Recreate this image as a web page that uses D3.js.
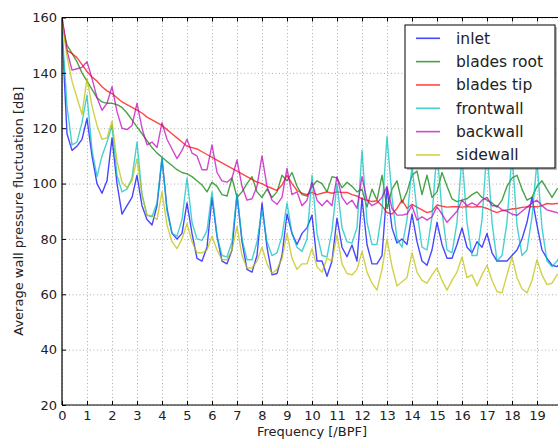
<!DOCTYPE html>
<html><head><meta charset="utf-8">
<script src="https://cdn.jsdelivr.net/npm/d3@7"></script>
<style>body{margin:0;background:#fff}svg{display:block;font-family:"DejaVu Sans",sans-serif}</style>
</head><body><svg id="c" width="558" height="440"></svg>
<script>
// ---- data ----
const freq = [
 0,0.2,0.4,0.6,0.8, 1,1.2,1.4,1.6,1.8, 2,2.2,2.4,2.6,2.8, 3,3.2,3.4,3.6,3.8,
 4,4.2,4.4,4.6,4.8, 5,5.2,5.4,5.6,5.8, 6,6.2,6.4,6.6,6.8, 7,7.2,7.4,7.6,7.8,
 8,8.2,8.4,8.6,8.8, 9,9.2,9.4,9.6,9.8, 10,10.2,10.4,10.6,10.8, 11,11.2,11.4,11.6,11.8,
 12,12.2,12.4,12.6,12.8, 13,13.2,13.4,13.6,13.8, 14,14.2,14.4,14.6,14.8, 15,15.2,15.4,15.6,15.8,
 16,16.2,16.4,16.6,16.8, 17,17.2,17.4,17.6,17.8, 18,18.2,18.4,18.6,18.8, 19,19.2,19.4,19.6,19.8, 20];

const inlet = [
 155,118,112,113.5,116, 123.5,110,100,96.5,101, 116.5,100,89,92,95, 103,92,87,85,92,
 109,91,82,80,82, 93,82,73,72,77, 95,81,72,71,76, 96,79,69,68,74,
 93,77,67,67.5,74, 89,82,78,82,84, 88.6,72,72,66.5,72, 87.5,77,73.6,77.8,72,
 94.8,78,71,71,74, 98.4,84,78.5,80,78, 89,79,72,70.5,76, 86,78,73,73,78,
 84,77,75,79,77, 82,75,72,72,72, 74,76,80,86,95, 85,76,73,70.5,70, 72];

const bladesRoot = [
 158,150,147,144,140, 137,134,131,129.5,129, 129,128.5,127.5,125.5,123, 120.5,118,115.5,113,111,
 109.5,108,106.5,105,104, 103.5,102.5,101,99.5,97, 100.5,99,96,95.5,102, 95,97,100,102.5,97,
 95,98,95,97,103, 101,104,99,96,95.5, 99,101,100,97,102.5, 102,98.5,100.5,99,97,
 98,91.5,98,94,103, 91,98,101,93,97, 103,104.5,96,103,95, 97,104,99,94.5,93.5,
 94,94.5,96,97,95, 94,93,91.5,94,99, 102,103,98,94,95, 99,101,98,95,98, 99];

const bladesTip = [
 160,148,147,145.5,143, 140.5,138.5,137,135,133.5, 132.5,131,129.5,128.5,127.5, 126.5,125.5,124,123,122,
 121,119.5,118,116.5,115, 113.5,113,112.5,111.5,110.5, 109.5,108.5,107.5,106.5,105.5, 104.5,103.5,102.5,101.5,100.5,
 100,99,98.3,97.5,99.5, 103,100,97.5,96.5,96, 96.8,96,96.5,97,96.5, 97,96.8,96.8,96,95.5,
 94.5,94,93.5,93.8,92, 89.5,89,91,94,91, 92.5,91.5,90.5,89.5,90, 92.3,91.8,91.5,91.6,91.6,
 91.5,91.7,91.5,91.6,91.6, 91,90.2,89.5,90.2,90.5, 90.8,91,91.4,91.6,91.6, 91.6,92,92.8,92.6,92.8, 93];

const frontwall = [
 156,128,114,115,122, 132,112,102.5,110,115, 121,103,97,98,102, 115,96,88.5,88,93,
 109.5,90,82,81,87, 102,86,80,79.5,83, 97,81,74,73.5,79, 96.5,80,72.5,72.5,79,
 90.5,79,74,75,81, 93,82,77,75.5,80, 103,82,74,73.5,83, 100,84,79,78.5,84,
 112,86,78,78,90, 117,95,80,77,87, 106.5,90,77,76,88, 112,90,76,75,86,
 110,86,74,74,87, 113,86,72,74,86, 111,85,74,76,88, 108,84,72,70,72, 75];

const backwall = [
 160,148,141,141.5,142, 144,138,131,126.5,129, 135,126,120,119.5,121, 129,120,114,115,113,
 122,116,112.5,109,112, 116,111,110,105,105, 114,104,101,100.5,102, 108.5,99,94,94.5,99,
 110,99,94,92.5,95, 105.5,96,97,92,94, 100.5,94,92,94,92, 102.5,95,92.5,94,91,
 102.5,94,92,93,95, 99,91,88.6,88.6,89, 92,86.8,88,86.8,88, 91.6,89,86,88,90,
 94,92,93,92,94, 95,92,92,90.5,90, 89,88.5,90,91.5,93, 94,92,90.5,90,89.5, 89];

const sidewall = [
 158,146,137,131,125, 138,128,121,116,116.5, 122.5,108,100.5,98.5,101, 109,96,88.5,88.5,87,
 97,85,79,76.5,80, 85.6,79,75,75,76, 81,76,72.5,72.5,76, 84.5,74,69.5,69.5,72,
 77,71,67.5,69,73, 82,73,69,71,71, 76.5,70,68,73,72, 81.5,71,67.5,67,69,
 75.5,68,64,61.5,69, 80,70,63,64.5,66, 75,68,65,64,67, 69.5,65,61.5,65,68,
 73.5,66,67,63,67, 70.5,65,61,60.5,67, 73.5,66,62,60.5,65, 72.5,67,63.5,64,67, 68];

const seriesNames = ["inlet","blades root","blades tip","frontwall","backwall","sidewall"];
const seriesValues = [inlet, bladesRoot, bladesTip, frontwall, backwall, sidewall];
const seriesColors = ["#0000ff","#008000","#ff0000","#00bfbf","#bf00bf","#bfbf00"];
const xTicks = [0,1,2,3,4,5,6,7,8,9,10,11,12,13,14,15,16,17,18,19,20];
const xTickLabels = ["0","1","2","3","4","5","6","7","8","9","10","11","12","13","14","15","16","17","18","19",""];
const yTicks = [20,40,60,80,100,120,140,160];
const xLabel = "Frequency [/BPF]";
const yLabel = "Average wall pressure fluctuation [dB]";

// ---- layout ----
const svg = d3.select("#c");
svg.append("rect").attr("width",558).attr("height",440).attr("fill","#fff");
const L = 62, R = 562, T = 17.5, B = 405;
const x = d3.scaleLinear().domain([0,20]).range([L,R]);
const y = d3.scaleLinear().domain([20,160]).range([B,T]);

// grid
const grid = svg.append("g").attr("class","grid");
grid.append("g").attr("transform",`translate(0,${B})`)
  .call(d3.axisBottom(x).tickValues(xTicks).tickSize(-(B-T)).tickFormat(""));
grid.append("g").attr("transform",`translate(${L},0)`)
  .call(d3.axisLeft(y).tickValues(yTicks).tickSize(-(R-L)).tickFormat(""));
grid.selectAll(".domain").remove();
grid.selectAll("line").attr("stroke","#9a9a9a").attr("stroke-width",0.8).attr("stroke-dasharray","1,2.5");

// clip
svg.append("clipPath").attr("id","plot").append("rect")
  .attr("x",L).attr("y",T).attr("width",R-L).attr("height",B-T);

const line = d3.line().x((d,i)=>x(freq[i])).y(d=>y(d));
const gl = svg.append("g").attr("clip-path","url(#plot)");
seriesValues.forEach((vals,k)=>{
  gl.append("path").datum(vals).attr("d",line)
    .attr("fill","none").attr("stroke",seriesColors[k])
    .attr("stroke-opacity",0.72).attr("stroke-width",1.4)
    .attr("stroke-linejoin","round");
});

// axes (inward ticks)
const fontSize = 13;
const ax = svg.append("g").attr("transform",`translate(0,${B})`)
  .call(d3.axisBottom(x).tickValues(xTicks).tickSize(-4).tickPadding(6)
    .tickFormat((d,i)=>xTickLabels[i]));
const axTop = svg.append("g").attr("transform",`translate(0,${T})`)
  .call(d3.axisTop(x).tickValues(xTicks).tickSize(-4).tickFormat(""));
const ay = svg.append("g").attr("transform",`translate(${L},0)`)
  .call(d3.axisLeft(y).tickValues(yTicks).tickSize(-4).tickPadding(5));
[ax,axTop,ay].forEach(g=>{
  g.selectAll(".domain").remove();
  g.selectAll("line").attr("stroke","#000").attr("stroke-width",1);
  g.selectAll("text").attr("font-size",fontSize).attr("font-family","DejaVu Sans").attr("fill","#222");
});

// spines
svg.append("path").attr("d",`M${L},${B}H${R}M${L},${B}V${T}M${L},${T}H${R}`)
  .attr("stroke","#000").attr("stroke-width",1.2).attr("fill","none");

// axis labels
svg.append("text").attr("x",(L+R)/2).attr("y",436).attr("text-anchor","middle")
  .attr("font-size",13).attr("fill","#222").text(xLabel);
svg.append("text").attr("transform",`translate(23,${(T+B)/2}) rotate(-90)`)
  .attr("text-anchor","middle").attr("font-size",13).attr("fill","#222").text(yLabel);

// legend
const lg = svg.append("g");
lg.append("rect").attr("x",407).attr("y",27).attr("width",150).attr("height",143)
  .attr("fill","#777").attr("opacity",0.5);
lg.append("rect").attr("x",405).attr("y",25).attr("width",150).attr("height",143)
  .attr("fill","#fff").attr("stroke","#000").attr("stroke-width",1);
seriesNames.forEach((n,k)=>{
  const yy = 38.3 + k*23.33;
  lg.append("line").attr("x1",416).attr("x2",440).attr("y1",yy).attr("y2",yy)
    .attr("stroke",seriesColors[k]).attr("stroke-opacity",0.72).attr("stroke-width",1.6);
  lg.append("text").attr("x",456).attr("y",yy).attr("dy","0.35em")
    .attr("font-size",15.5).attr("fill","#222").text(n);
});
</script></body></html>
